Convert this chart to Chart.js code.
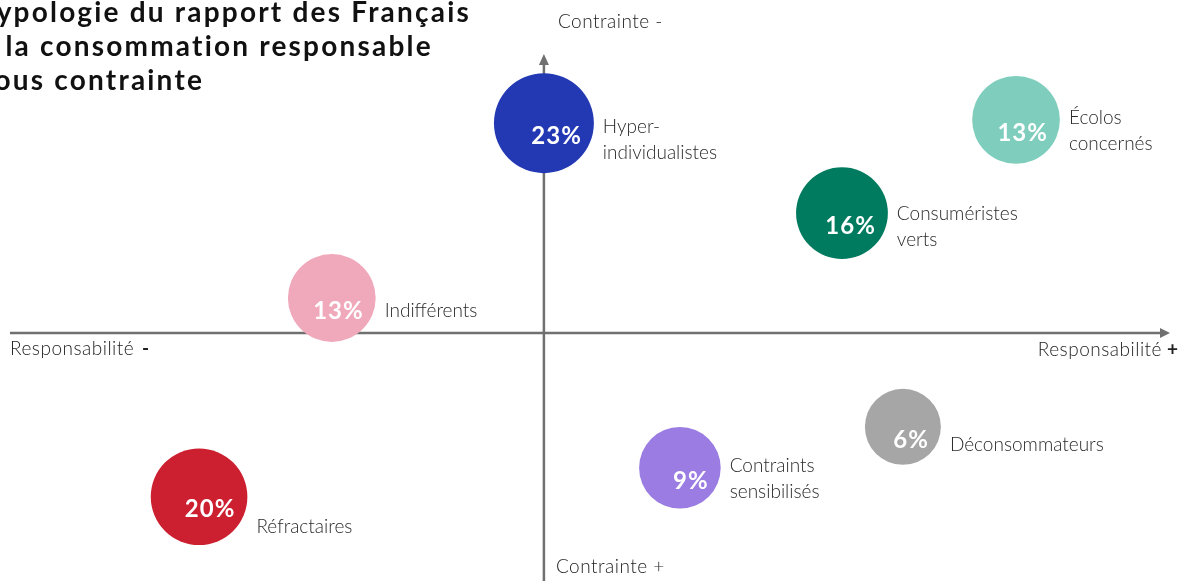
<!DOCTYPE html>
<html lang="fr">
<head>
<meta charset="utf-8">
<script src="https://cdn.jsdelivr.net/npm/chart.js@4.4.0/dist/chart.umd.min.js"></script>
<style>
  html, body { margin: 0; padding: 0; background: #fff; overflow: hidden; }
  #wrap { position: relative; width: 1183px; height: 581px; }
  #title {
    position: absolute; left: -20px; top: -6px; margin: 0;
    font: 700 28px "Lato", sans-serif; line-height: 34px; color: #111;
    letter-spacing: 2.2px; z-index: 2;
  }
  canvas { position: absolute; left: 0; top: 0; }
</style>
</head>
<body>
<div id="wrap">
  <h1 id="title">Typologie du rapport des Français<br>à la consommation responsable<br>sous contrainte</h1>
  <canvas id="chart" width="1183" height="581"></canvas>
</div>
<script>
// segments: position on the two axes, share of the population
const segments      = ["Hyper-\nindividualistes", "Écolos\nconcernés", "Consuméristes\nverts", "Indifférents", "Réfractaires", "Contraints\nsensibilisés", "Déconsommateurs"]
const responsab     = [0, 8.68, 5.48, -3.9, -6.34, 2.5, 6.6]      // x : Responsabilité - / +
const contrainte    = [6.3, 6.4, 3.6, 1.05, -4.92, -4.05, -2.82]  // y : Contrainte + / -
const shares        = [23, 13, 16, 13, 20, 9, 6]                  // % of the French
const segmentColors = ["#2339b4", "#7fcebd", "#017b5f", "#f0a8bb", "#cc2030", "#9a7ce2", "#a6a6a6"]

// small tweaks to where each name sits next to its bubble
const nameDy = [4, -2, 1, 13, 30, -2, 18]

const FONT = '"Lato", sans-serif'
const AXIS = "#707070"

const radiusFor = pct => 25.5 + 5.1 * Math.sqrt(pct)

const quadrant = {
  id: "quadrant",
  beforeDatasetsDraw(chart) {
    const { ctx, scales: { x, y } } = chart
    const x0 = x.getPixelForValue(0)
    const y0 = y.getPixelForValue(0)
    ctx.save()
    ctx.strokeStyle = AXIS
    ctx.fillStyle = AXIS
    ctx.lineWidth = 2.5
    // horizontal axis
    ctx.beginPath()
    ctx.moveTo(10, y0)
    ctx.lineTo(1161, y0)
    ctx.stroke()
    ctx.beginPath()
    ctx.moveTo(1170, y0)
    ctx.lineTo(1160, y0 - 5)
    ctx.lineTo(1160, y0 + 5)
    ctx.closePath()
    ctx.fill()
    // vertical axis
    ctx.beginPath()
    ctx.moveTo(x0, chart.height)
    ctx.lineTo(x0, 64)
    ctx.stroke()
    ctx.beginPath()
    ctx.moveTo(x0, 54)
    ctx.lineTo(x0 - 5, 65)
    ctx.lineTo(x0 + 5, 65)
    ctx.closePath()
    ctx.fill()

    ctx.fillStyle = "#222"
    ctx.textBaseline = "middle"
    ctx.letterSpacing = "0.5px"
    const light = "300 19px " + FONT
    ctx.font = light
    ctx.textAlign = "left"
    ctx.fillText("Contrainte -", x0 + 14, 22)
    ctx.fillText("Contrainte +", x0 + 12, 567)
    ctx.fillText("Responsabilité", 10, y0 + 16)
    const w = ctx.measureText("Responsabilité ").width
    ctx.textAlign = "right"
    ctx.fillText("Responsabilité", 1162, y0 + 17)
    ctx.font = "700 19px " + FONT
    ctx.textAlign = "left"
    ctx.fillText("-", 10 + w + 2, y0 + 16)
    ctx.fillText("+", 1167, y0 + 17)
    ctx.restore()
  },
  afterDatasetsDraw(chart) {
    const { ctx } = chart
    const meta = chart.getDatasetMeta(0)
    ctx.save()
    ctx.textBaseline = "middle"
    meta.data.forEach((pt, i) => {
      const r = radiusFor(shares[i])
      ctx.fillStyle = "#fff"
      ctx.font = "700 24px " + FONT
      ctx.letterSpacing = "1px"
      ctx.textAlign = "right"
      ctx.fillText(shares[i] + "%", pt.x + r - 12, pt.y + 13)

      ctx.fillStyle = "#2a2a2a"
      ctx.font = "300 19px " + FONT
      ctx.letterSpacing = "0px"
      ctx.textAlign = "left"
      segments[i].split("\n").forEach((line, j) => {
        ctx.fillText(line, pt.x + r + 9, pt.y + nameDy[i] + j * 26)
      })
    })
    ctx.restore()
  }
}

new Chart(document.getElementById("chart"), {
  type: "bubble",
  data: {
    datasets: [{
      data: segments.map((_, i) => ({ x: responsab[i], y: contrainte[i], r: radiusFor(shares[i]) })),
      backgroundColor: segmentColors,
      borderWidth: 0,
      hoverRadius: 0,
    }],
  },
  options: {
    responsive: false,
    animation: false,
    events: [],
    layout: { padding: 0, autoPadding: false },
    plugins: { legend: { display: false }, tooltip: { enabled: false } },
    scales: {
      x: { type: "linear", min: -10, max: 11.75, display: false },
      y: { type: "linear", min: -7.45, max: 10, display: false },
    },
  },
  plugins: [quadrant],
})
</script>
</body>
</html>
